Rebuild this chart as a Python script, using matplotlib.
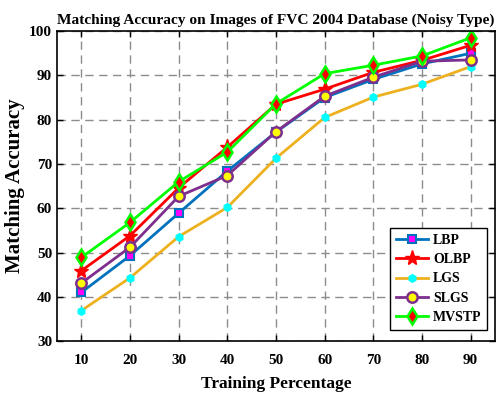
import matplotlib.pyplot as plt

plt.rcParams['font.family'] = ['Liberation Serif', 'DejaVu Serif']
plt.rcParams['font.weight'] = 'bold'

train_pct = [10, 20, 30, 40, 50, 60, 70, 80, 90]
lbp = [41.0, 49.3, 58.9, 68.4, 77.2, 85.0, 89.1, 92.6, 95.0]
olbp = [45.9, 53.8, 64.6, 73.8, 83.5, 86.9, 90.7, 93.4, 96.8]
lgs = [36.9, 44.3, 53.6, 60.2, 71.3, 80.5, 85.1, 88.0, 92.0]
slgs = [43.1, 51.2, 62.7, 67.4, 77.3, 85.3, 89.6, 93.2, 93.5]
mvstp = [48.9, 56.8, 66.0, 72.7, 83.6, 90.4, 92.3, 94.4, 98.5]

fig = plt.figure(figsize=(5, 3.99), dpi=100)
ax = fig.add_axes([0.114, 0.145, 0.876, 0.777])

ax.plot(train_pct, lbp, color='#0072BD', lw=2, marker='s', ms=5.5,
        mfc='magenta', mec='#0072BD', mew=1.5, label='LBP')
ax.plot(train_pct, olbp, color='red', lw=2, marker='*', ms=11,
        mfc='red', mec='red', label='OLBP')
ax.plot(train_pct, lgs, color='#EDB120', lw=2, marker='h', ms=5.5,
        mfc='cyan', mec='cyan', label='LGS')
ax.plot(train_pct, slgs, color='#7E2F8E', lw=2, marker='o', ms=7.5,
        mfc='yellow', mec='#7E2F8E', mew=1.8, label='SLGS')
ax.plot(train_pct, mvstp, color='#00FF00', lw=2, marker='d', ms=8.5,
        mfc='red', mec='#00FF00', mew=1.8, label='MVSTP')

ax.set_xlim(5, 95)
ax.set_ylim(30, 100)
ax.set_xticks(train_pct)
ax.set_yticks(range(30, 101, 10))
ax.tick_params(direction='in', length=4, labelsize=11, width=1,
               top=True, right=True)
ax.tick_params(axis='x', pad=9)
for lab in ax.get_xticklabels() + ax.get_yticklabels():
    lab.set_fontweight('bold')
ax.grid(True, ls=(0, (6, 4)), color='#8c8c8c', lw=1)
for s in ax.spines.values():
    s.set_linewidth(1.2)

ax.set_xlabel('Training Percentage', fontsize=12.5, fontweight='bold', labelpad=7)
ax.set_ylabel('Matching Accuracy', fontsize=15, fontweight='bold', labelpad=3)
ax.set_title('Matching Accuracy on Images of FVC 2004 Database (Noisy Type)',
             fontsize=11.1, fontweight='bold', pad=5)

leg = ax.legend(loc='lower right', bbox_to_anchor=(0.998, 0.015), fancybox=False,
                edgecolor='black', framealpha=1, prop={'weight': 'bold', 'size': 10},
                handlelength=2.3, labelspacing=0.45, borderpad=0.4, handletextpad=0.4)
leg.get_frame().set_linewidth(1)

fig.savefig('out.png', dpi=100)
